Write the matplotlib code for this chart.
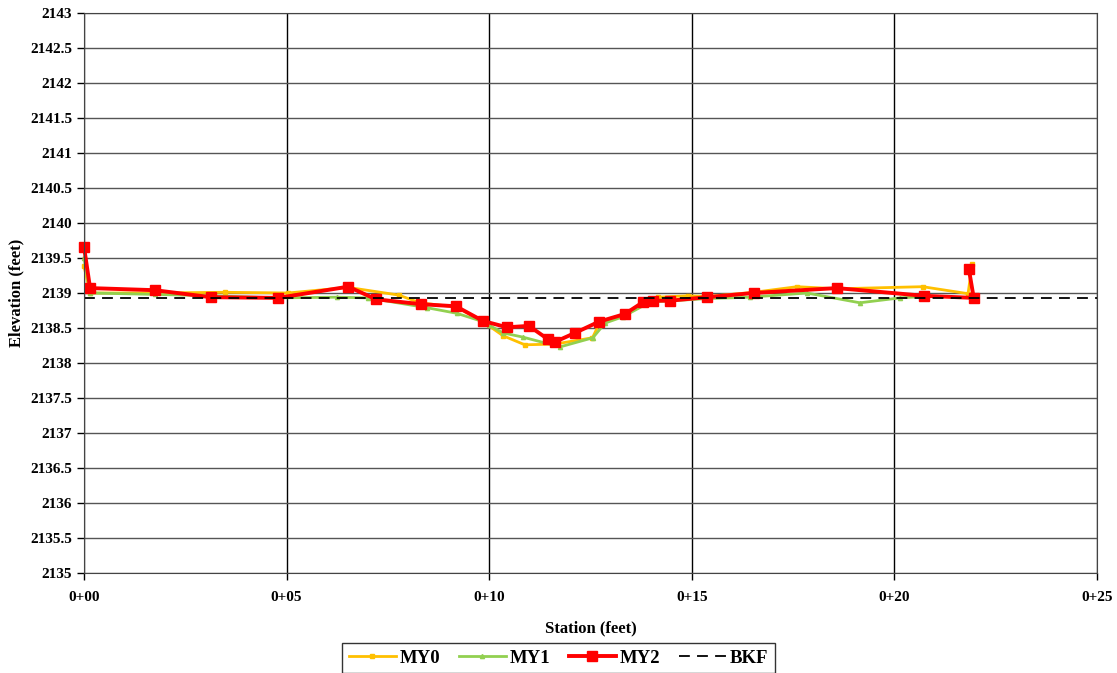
import matplotlib.pyplot as plt
from matplotlib.ticker import MultipleLocator, FuncFormatter

plt.rcParams['font.family'] = ['Liberation Serif', 'DejaVu Serif']
plt.rcParams['font.weight'] = 'bold'

# MY0 survey
my0_station = [0.0, 0.15, 1.75, 3.48, 5.03, 6.52, 7.77, 8.29, 9.18, 9.85, 10.34, 10.88,
               11.62, 12.55, 12.73, 13.35, 14.17, 14.9, 15.38, 16.53, 17.6, 18.6, 20.7, 21.82, 21.92]
my0_elev = [2139.38, 2139.0, 2139.0, 2139.01, 2139.0, 2139.08, 2138.97, 2138.86, 2138.8, 2138.59,
            2138.39, 2138.26, 2138.27, 2138.36, 2138.58, 2138.69, 2138.94, 2138.96, 2138.95, 2139.01,
            2139.09, 2139.06, 2139.09, 2138.99, 2139.41]

# MY1 survey
my1_station = [0.0, 0.15, 1.75, 3.13, 4.79, 6.24, 7.0, 8.46, 9.2, 9.85, 10.0, 10.34, 10.83,
               11.75, 12.56, 12.86, 13.3, 13.97, 15.38, 16.44, 17.84, 19.15, 20.14, 20.73]
my1_elev = [2139.5, 2139.0, 2138.98, 2138.96, 2138.93, 2138.94, 2138.93, 2138.79, 2138.71, 2138.59,
            2138.54, 2138.43, 2138.37, 2138.23, 2138.36, 2138.57, 2138.66, 2138.87, 2138.92, 2138.94,
            2139.0, 2138.86, 2138.93, 2138.95]

# MY2 survey
my2_station = [0.0, 0.15, 1.75, 3.13, 4.79, 6.52, 7.21, 8.32, 9.18, 9.85, 10.44, 10.98, 11.45,
               11.62, 12.12, 12.71, 13.35, 13.8, 14.04, 14.46, 15.38, 16.53, 18.58, 20.73, 21.96, 21.84]
my2_elev = [2139.66, 2139.07, 2139.04, 2138.94, 2138.93, 2139.09, 2138.91, 2138.84, 2138.81, 2138.6,
            2138.51, 2138.53, 2138.34, 2138.3, 2138.43, 2138.59, 2138.7, 2138.87, 2138.89, 2138.89,
            2138.94, 2139.0, 2139.07, 2138.96, 2138.93, 2139.34]

# bankfull
bkf_station = [0, 25]
bkf_elev = [2138.93, 2138.93]

fig = plt.figure(figsize=(11.17, 6.73), dpi=100)
ax = fig.add_axes([0.0752, 0.1486, 0.9068, 0.8321])

ax.plot(my0_station, my0_elev, color='#FFC000', lw=2, marker='s', ms=3, label='MY0', clip_on=False)
ax.plot(my1_station, my1_elev, color='#92D050', lw=2, marker='^', ms=3, label='MY1', clip_on=False)
ax.plot(my2_station, my2_elev, color='#FF0000', lw=2.8, marker='s', ms=7, label='MY2', clip_on=False)
ax.plot(bkf_station, bkf_elev, color='black', lw=1.3, ls=(0, (6, 4)), label='BKF')

ax.set_xlim(0, 25)
ax.set_ylim(2135, 2143)
ax.xaxis.set_major_locator(MultipleLocator(5))
ax.yaxis.set_major_locator(MultipleLocator(0.5))
ax.xaxis.set_major_formatter(FuncFormatter(lambda v, p: f"0+{int(round(v)):02d}"))
ax.yaxis.set_major_formatter(FuncFormatter(lambda v, p: f"{v:g}"))
ax.tick_params(axis='both', labelsize=11, direction='out', length=5, width=1)
ax.tick_params(axis='x', pad=8)
for lab in ax.get_xticklabels() + ax.get_yticklabels():
    lab.set_fontweight('bold')

ax.grid(True, axis='y', color='#555555', lw=1)
ax.grid(True, axis='x', color='black', lw=1)
ax.set_axisbelow(True)
for s in ax.spines.values():
    s.set_color('#444444')

ax.set_xlabel('Station (feet)', fontsize=12, fontweight='bold', labelpad=12)
ax.set_ylabel('Elevation (feet)', fontsize=12, fontweight='bold', labelpad=4)

# legend centred on the figure, partly running off the bottom edge like the original
handles, labels = ax.get_legend_handles_labels()
leg = fig.legend(handles, labels, loc='upper center', bbox_to_anchor=(0.5, 1 - 643 / 673), ncol=4,
                 frameon=True, fancybox=False, edgecolor='black', handlelength=2.5, handletextpad=0.2,
                 columnspacing=1.0, borderpad=0.35, borderaxespad=0,
                 prop={'weight': 'bold', 'size': 13.5})
leg.get_frame().set_linewidth(1)

fig.savefig('out.png', dpi=100)
